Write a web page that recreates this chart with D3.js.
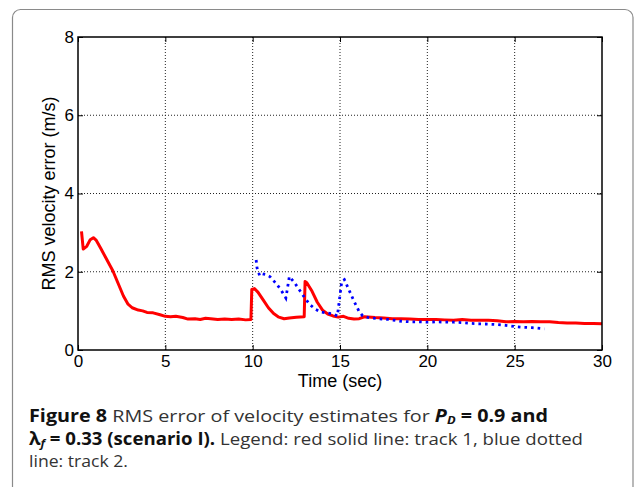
<!DOCTYPE html>
<html>
<head>
<meta charset="utf-8">
<script src="https://cdn.jsdelivr.net/npm/d3@7"></script>
<style>
  body { margin: 0; background: #fff; }
  svg { display: block; }
</style>
</head>
<body>
<div class="chart"></div>
<script>
// Track 1 (red solid)
var t1 = [0.2, 0.3, 0.5, 0.7, 0.88, 1.05, 1.3, 1.6, 2.0, 2.3, 2.6, 2.85, 3.1, 3.45, 3.7, 3.95, 4.3, 4.7, 5.0, 5.3,
  5.6, 6.0, 6.3, 6.7, 7.0, 7.3, 7.6, 8.0, 8.4, 8.8, 9.2, 9.6, 9.9, 9.95, 10.1, 10.3, 10.6, 10.9, 11.2, 11.5,
  11.8, 12.1, 12.5, 12.95, 13.0, 13.1, 13.4, 13.7, 14.0, 14.3, 14.6, 14.9, 15.2, 15.5, 15.8, 16.1, 16.4, 17, 17.5, 18,
  18.5, 19, 19.5, 20, 20.5, 21, 21.5, 22, 22.5, 23, 23.5, 24, 24.5, 25, 25.5, 26, 26.5, 27, 27.5, 28,
  28.5, 29, 29.5, 30];
var rms1 = [3.03, 2.58, 2.65, 2.82, 2.87, 2.80, 2.60, 2.35, 2.02, 1.70, 1.38, 1.18, 1.08, 1.02, 1.00, 0.96, 0.95, 0.90, 0.86, 0.85,
  0.86, 0.83, 0.79, 0.80, 0.78, 0.81, 0.80, 0.78, 0.79, 0.78, 0.79, 0.77, 0.78, 1.55, 1.57, 1.48, 1.28, 1.08, 0.93, 0.84,
  0.80, 0.82, 0.84, 0.85, 1.75, 1.72, 1.50, 1.22, 1.02, 0.92, 0.87, 0.84, 0.86, 0.81, 0.79, 0.80, 0.85, 0.83, 0.82, 0.80,
  0.80, 0.79, 0.78, 0.78, 0.78, 0.77, 0.76, 0.78, 0.76, 0.76, 0.76, 0.75, 0.72, 0.73, 0.72, 0.73, 0.72, 0.72, 0.70, 0.69,
  0.69, 0.68, 0.68, 0.67];

// Track 2 (blue dotted)
var t2 = [10.2, 10.25, 10.4, 10.55, 10.8, 11.0, 11.3, 11.6, 11.9, 12.0, 12.1, 12.4, 12.7, 13.0, 13.3, 13.6, 13.9, 14.2, 14.6, 14.85,
  15.0, 15.1, 15.25, 15.5, 15.8, 16.1, 16.3, 16.7, 17.2, 17.8, 18.4, 19, 19.5, 20, 20.5, 21, 21.5, 22, 22.5, 23,
  23.5, 24, 24.5, 25, 25.5, 26, 26.7];
var rms2 = [2.30, 2.10, 1.90, 1.95, 1.92, 1.87, 1.72, 1.55, 1.33, 1.60, 1.88, 1.72, 1.52, 1.32, 1.15, 1.04, 0.97, 0.95, 0.92, 0.87,
  1.40, 1.75, 1.80, 1.55, 1.25, 0.98, 0.87, 0.82, 0.80, 0.78, 0.74, 0.72, 0.72, 0.71, 0.72, 0.71, 0.71, 0.70, 0.68, 0.67,
  0.66, 0.65, 0.63, 0.60, 0.58, 0.57, 0.54];

var xTicks = [0, 5, 10, 15, 20, 25, 30];
var yTicks = [0, 2, 4, 6, 8];

var W = 637, H = 487;
var margin = { top: 37, right: 35, bottom: 137, left: 78 };
var width = W - margin.left - margin.right;   // 524
var height = H - margin.top - margin.bottom;  // 313

var root = d3.select('.chart')
  .append('svg')
    .attr('width', W)
    .attr('height', H);

// card border
root.append('rect')
  .attr('x', 12.5).attr('y', 9.5)
  .attr('width', 620.5).attr('height', 520)
  .attr('rx', 8)
  .attr('fill', 'none')
  .attr('stroke', '#8a8a8a')
  .attr('stroke-width', 1.2);

var svg = root.append('g')
  .attr('transform', 'translate(' + margin.left + ', ' + margin.top + ')');

var xScale = d3.scaleLinear().domain([0, 30]).range([0, width]);
var yScale = d3.scaleLinear().domain([0, 8]).range([height, 0]);

// dotted grid
svg.append('g').selectAll('line.gx')
  .data(xTicks.slice(1, -1))
  .enter().append('line')
    .attr('x1', d => xScale(d)).attr('x2', d => xScale(d))
    .attr('y1', 0).attr('y2', height)
    .attr('stroke', '#222').attr('stroke-width', 1)
    .attr('stroke-dasharray', '1,2');
svg.append('g').selectAll('line.gy')
  .data(yTicks.slice(1, -1))
  .enter().append('line')
    .attr('y1', d => yScale(d)).attr('y2', d => yScale(d))
    .attr('x1', 0).attr('x2', width)
    .attr('stroke', '#222').attr('stroke-width', 1)
    .attr('stroke-dasharray', '1,2');

// series
var line = d3.line()
  .x(d => xScale(d[0]))
  .y(d => yScale(d[1]));

svg.append('path')
  .datum(t1.map((t, i) => [t, rms1[i]]))
  .attr('d', line)
  .attr('fill', 'none')
  .attr('stroke', '#ff0000')
  .attr('stroke-width', 3)
  .attr('stroke-linejoin', 'round');

svg.append('path')
  .datum(t2.map((t, i) => [t, rms2[i]]))
  .attr('d', line)
  .attr('fill', 'none')
  .attr('stroke', '#0000ff')
  .attr('stroke-width', 2.8)
  .attr('stroke-dasharray', '2.6,4');

// axes (ticks pointing inward, matlab style)
var fontTick = '"Liberation Sans", Arial, Helvetica, sans-serif';

var xAxis = d3.axisBottom(xScale).tickValues(xTicks).tickSize(-5).tickPadding(5);
var gx = svg.append('g')
  .attr('transform', `translate(0, ${height})`)
  .call(xAxis);

var yAxis = d3.axisLeft(yScale).tickValues(yTicks).tickSize(-5).tickPadding(4);
var gy = svg.append('g').call(yAxis);

svg.append('g').call(d3.axisTop(xScale).tickValues(xTicks).tickSize(-5).tickFormat(''));
svg.append('g').attr('transform', `translate(${width}, 0)`)
  .call(d3.axisRight(yScale).tickValues(yTicks).tickSize(-5).tickFormat(''));

svg.selectAll('.domain').remove();
svg.selectAll('.tick line').attr('stroke', '#000');
[gx, gy].forEach(g => g.selectAll('text')
  .attr('font-family', fontTick)
  .attr('font-size', 17)
  .attr('fill', '#000'));

svg.append('rect')
  .attr('width', width).attr('height', height)
  .attr('fill', 'none')
  .attr('stroke', '#000')
  .attr('stroke-width', 1.5);

// axis labels
root.append('text')
  .attr('x', margin.left + width / 2).attr('y', 387)
  .attr('text-anchor', 'middle')
  .attr('font-family', fontTick).attr('font-size', 18)
  .text('Time (sec)');

root.append('text')
  .attr('transform', 'translate(55, ' + (margin.top + height / 2) + ') rotate(-90)')
  .attr('text-anchor', 'middle')
  .attr('font-family', fontTick).attr('font-size', 18)
  .text('RMS velocity error (m/s)');

// caption
var capFont = '"Open Sans", "Noto Sans", sans-serif';
var cap = root.append('g')
  .attr('font-family', capFont).attr('font-size', 17);

var l1 = cap.append('text').attr('x', 29).attr('y', 422)
  .attr('textLength', 519).attr('lengthAdjust', 'spacingAndGlyphs');
l1.append('tspan').attr('font-weight', 'bold').attr('fill', '#111').text('Figure 8 ');
l1.append('tspan').attr('fill', '#333').text('RMS error of velocity estimates for ');
l1.append('tspan').attr('font-weight', 'bold').attr('font-style', 'italic').attr('fill', '#111').text('P');
l1.append('tspan').attr('font-weight', 'bold').attr('font-style', 'italic').attr('fill', '#111')
  .attr('font-size', 11).attr('dy', 2).text('D');
l1.append('tspan').attr('font-weight', 'bold').attr('fill', '#111').attr('dy', -2).text(' = 0.9 and');

var l2 = cap.append('text').attr('x', 29).attr('y', 445)
  .attr('textLength', 554).attr('lengthAdjust', 'spacingAndGlyphs');
l2.append('tspan').attr('font-weight', 'bold').attr('fill', '#111').text('λ');
l2.append('tspan').attr('font-weight', 'bold').attr('font-style', 'italic').attr('fill', '#111')
  .attr('font-size', 11).attr('dy', 2).text('f');
l2.append('tspan').attr('font-weight', 'bold').attr('fill', '#111').attr('dy', -2).text(' = 0.33 (scenario I).');
l2.append('tspan').attr('fill', '#333').text(' Legend: red solid line: track 1, blue dotted');

cap.append('text').attr('x', 29).attr('y', 467)
  .attr('textLength', 99).attr('lengthAdjust', 'spacingAndGlyphs')
  .attr('fill', '#333')
  .text('line: track 2.');
</script>
</body>
</html>
